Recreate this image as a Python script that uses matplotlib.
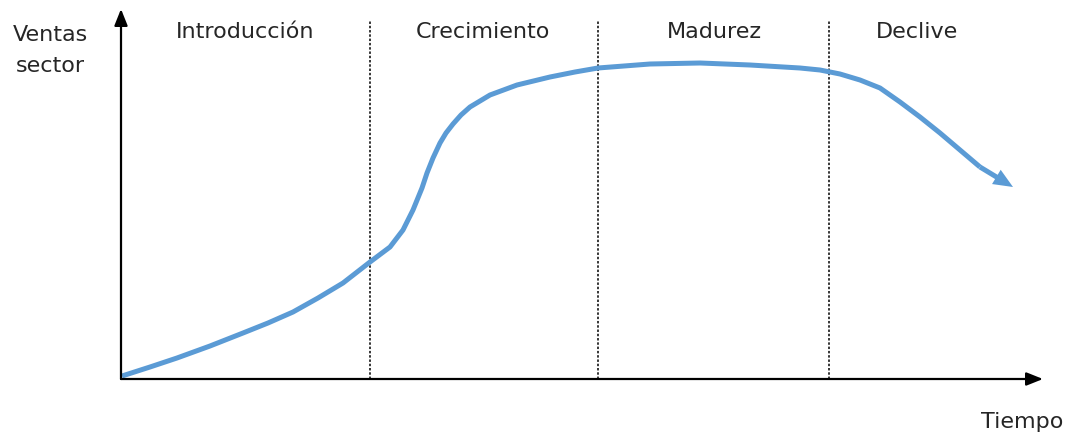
import matplotlib.pyplot as plt
from matplotlib.patches import FancyArrowPatch

# curve: time vs sector sales (pixel-like units from the origin)
tiempo = [1, 29, 56, 89, 122, 147, 172, 197, 222, 249, 269, 282, 292, 301,
          306, 312, 319, 325, 332, 340, 349, 369, 396, 429, 454, 477, 529,
          579, 629, 679, 699, 719, 739, 759, 779, 799, 819, 839, 859, 876, 892]
ventas = [3, 12, 21, 33, 46, 56, 67, 81, 96, 117, 132, 149, 169, 191,
          206, 221, 236, 246, 255, 264, 272, 284, 294, 302, 307, 311, 315,
          316, 314, 311, 309, 305, 299, 291, 277, 262, 246, 229, 212, 201, 192]

fases = ["Introducción", "Crecimiento", "Madurez", "Declive"]
limites = [249, 477, 708]          # phase boundaries on the time axis
centros_fases = [124, 362, 593, 796]

eje_x_fin = 922
eje_y_fin = 370

AZUL = "#5b9bd5"
TEXTO = "#262626"


def main():
    fig = plt.figure(figsize=(10.67, 4.37), dpi=100)
    ax = fig.add_axes([0, 0, 1, 1])
    ax.set_xlim(-121, 1067 - 121)
    ax.set_ylim(379 - 437, 379)
    ax.axis("off")

    # axes with arrowheads
    for fin in [(eje_x_fin, 0), (0, eje_y_fin)]:
        ax.annotate("", xy=fin, xytext=(0, 0),
                    arrowprops=dict(arrowstyle="-|>,head_length=1.0,head_width=0.4",
                                    color="black", lw=1.6, shrinkA=0, shrinkB=0))

    # phase boundaries
    for x in limites:
        ax.plot([x, x], [0, 358], color="black", lw=1.1, ls=(0, (1.6, 1.2)))

    # sales curve, last stretch drawn as a filled arrow
    ax.plot(tiempo[:-2], ventas[:-2], color=AZUL, lw=3.6,
            solid_capstyle="butt", solid_joinstyle="round")
    flecha = FancyArrowPatch((tiempo[-3], ventas[-3]), (tiempo[-1], ventas[-1]),
                             arrowstyle="simple,tail_width=0.36,head_width=1.2,head_length=1.4",
                             mutation_scale=10, color=AZUL, lw=0,
                             shrinkA=0, shrinkB=0)
    ax.add_patch(flecha)

    for nombre, cx in zip(fases, centros_fases):
        ax.text(cx, 347, nombre, ha="center", va="center", fontsize=16,
                color=TEXTO)

    ax.text(-71, 344, "Ventas", ha="center", va="center", fontsize=16, color=TEXTO)
    ax.text(-71, 313, "sector", ha="center", va="center", fontsize=16, color=TEXTO)
    ax.text(901, -43, "Tiempo", ha="center", va="center", fontsize=16, color=TEXTO)

    fig.savefig("out.png", dpi=100, facecolor="white")


if __name__ == "__main__":
    main()
